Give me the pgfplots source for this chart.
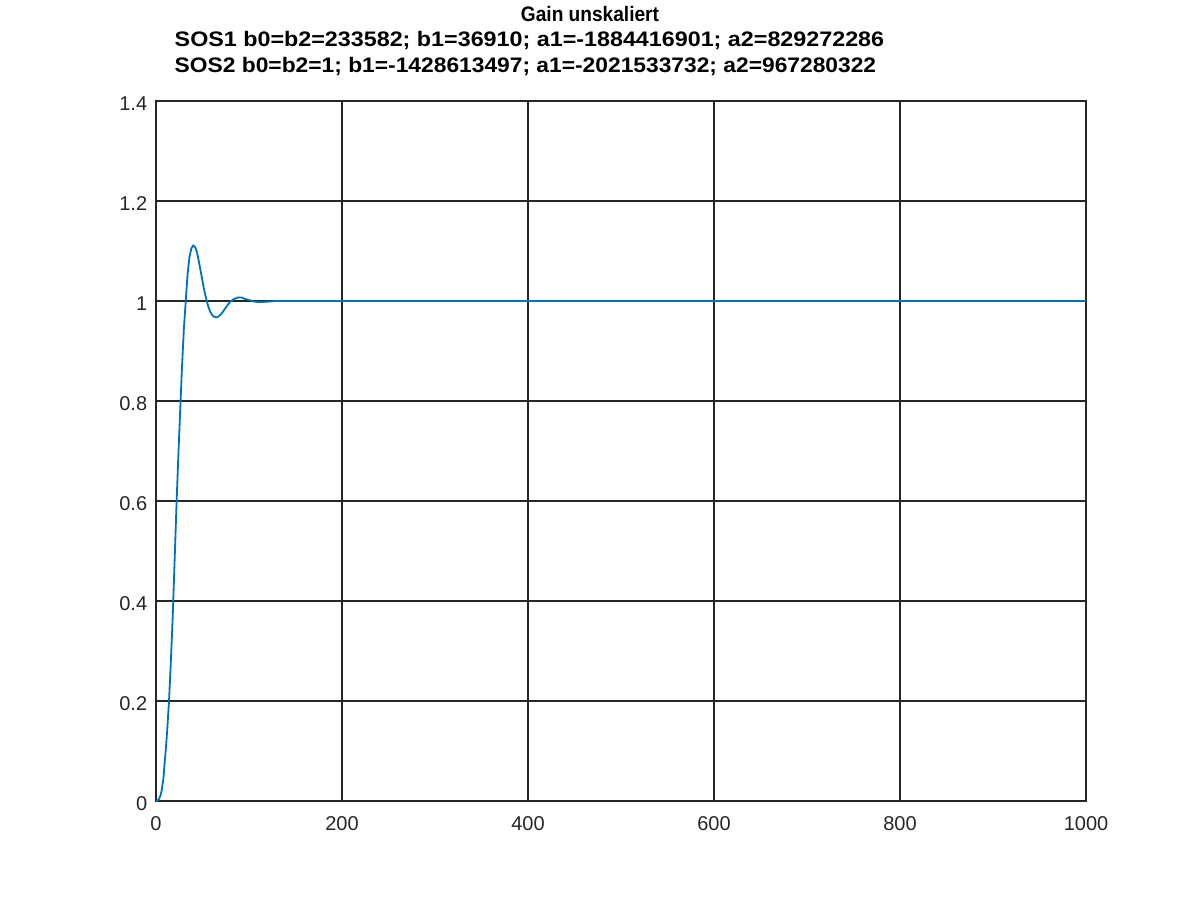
\documentclass[border=0pt]{standalone}
\usepackage{fontspec}
\setmainfont{Liberation Sans}
\newfontfamily\titlefont[FakeStretch=1.11]{Liberation Sans}
\usepackage{graphicx}
\usepackage{pgfplots}
\pgfplotsset{compat=1.18}
\definecolor{octblue}{HTML}{0072BD}
\begin{document}
\fontsize{20}{24}\selectfont
\begin{tikzpicture}
\useasboundingbox (-156pt,-97pt) rectangle (1044pt,801pt);
\begin{axis}[
    at={(0pt,0pt)}, anchor=south west,
    scale only axis,
    width=930pt, height=700pt,
    xmin=0, xmax=1000,
    ymin=0, ymax=1.4,
    xtick={0,200,...,1000},
    ytick={0,0.2,...,1.4},
    yticklabels={0,0.2,0.4,0.6,0.8,1,1.2,1.4},
    xticklabels={0,200,400,600,800,1000},
    grid=major,
    grid style={black!85, line width=1.2pt},
    axis line style={black!85, line width=1.2pt},
    tick style={draw=none},
    ticklabel style={font=\fontsize{20}{24}\selectfont, text=black!85},
    /pgf/number format/assume math mode=true,
    xticklabel style={yshift=-9pt},
    yticklabel style={xshift=-2pt, yshift=-3pt},
]
\addplot[color=octblue, line width=1.8pt] coordinates {
    (0,0) (1,0.0005) (3,0.003) (5,0.012) (6,0.02) (8,0.045) (9,0.07) (10,0.09)
    (12,0.14) (14,0.2) (16,0.28) (18,0.37) (20,0.48) (22,0.59) (24,0.69)
    (26,0.78) (28,0.87) (30,0.945) (32,1.0) (34,1.055) (36,1.088) (38,1.105)
    (40,1.111) (42,1.108) (44,1.098) (46,1.08) (48,1.06) (50,1.04) (52,1.02)
    (54,1.005) (56,0.99) (58,0.98) (60,0.973) (62,0.969) (65,0.967) (68,0.970)
    (71,0.976) (74,0.984) (77,0.992) (80,0.999) (84,1.004) (88,1.007) (92,1.007)
    (96,1.004) (100,1.002) (105,0.999) (110,0.998) (115,0.998) (122,0.999)
    (130,1.0) (1000,1.0)
};
\end{axis}
\node[anchor=base, font=\titlefont\fontsize{21}{24}\selectfont\bfseries] at (434pt,779pt) {\scalebox{0.82}[1]{Gain unskaliert}};
\node[anchor=base, font=\titlefont\fontsize{21}{24}\selectfont\bfseries] at (373.5pt,754pt) {SOS1 b0=b2=233582; b1=36910; a1=-1884416901; a2=829272286};
\node[anchor=base, font=\titlefont\fontsize{21}{24}\selectfont\bfseries] at (369.5pt,728pt) {\scalebox{0.978}[1]{SOS2 b0=b2=1; b1=-1428613497; a1=-2021533732; a2=967280322}};
\end{tikzpicture}
\end{document}
